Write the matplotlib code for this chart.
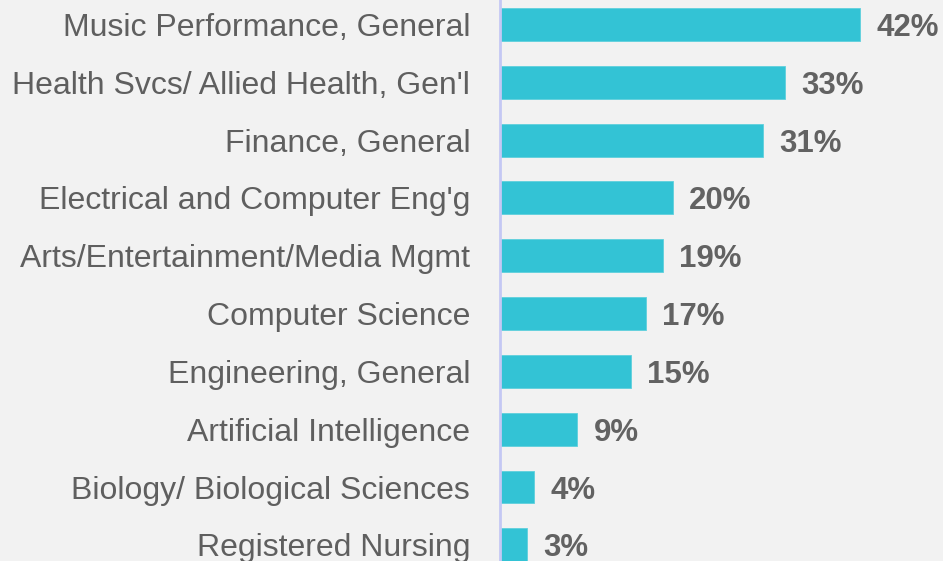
import matplotlib
matplotlib.use("Agg")
from matplotlib import pyplot as plt

# data (top to bottom)
majors = ["Music Performance, General",
          "Health Svcs/ Allied Health, Gen'l",
          "Finance, General",
          "Electrical and Computer Eng'g",
          "Arts/Entertainment/Media Mgmt",
          "Computer Science",
          "Engineering, General",
          "Artificial Intelligence",
          "Biology/ Biological Sciences",
          "Registered Nursing"]
shares = [42, 33.3, 30.7, 20.2, 19.0, 17.0, 15.3, 9.0, 4.0, 3.2]

plt.rcParams['font.family'] = ['Liberation Sans', 'DejaVu Sans']

bg = '#f2f2f2'
fig = plt.figure(figsize=(9.43, 5.61), dpi=100, facecolor=bg)
ax = fig.add_axes([500 / 943, 0, 443 / 943, 1], facecolor=bg)

y = list(range(len(majors)))
ax.barh(y, shares, height=0.57, color='#33c3d5', edgecolor='#5fd0dd', linewidth=0.6)

for i, v in enumerate(shares):
    ax.text(v + 1.9, i, f"{round(v)}%", va='center_baseline', ha='left',
            fontsize=22.5, fontweight='bold', color='#626262')

ax.set_yticks(y)
ax.set_yticklabels(majors, fontsize=23, color='#5f5f5f')
ax.tick_params(axis='y', length=0, pad=21.5)
ax.set_xticks([])
ax.set_xlim(0, 51.7)
ax.set_ylim(9.28, -0.424)

for s in ['top', 'right', 'bottom']:
    ax.spines[s].set_visible(False)
ax.spines['left'].set_color('#c4c8f4')
ax.spines['left'].set_linewidth(2)

fig.savefig('out.png', dpi=100, facecolor=bg)
